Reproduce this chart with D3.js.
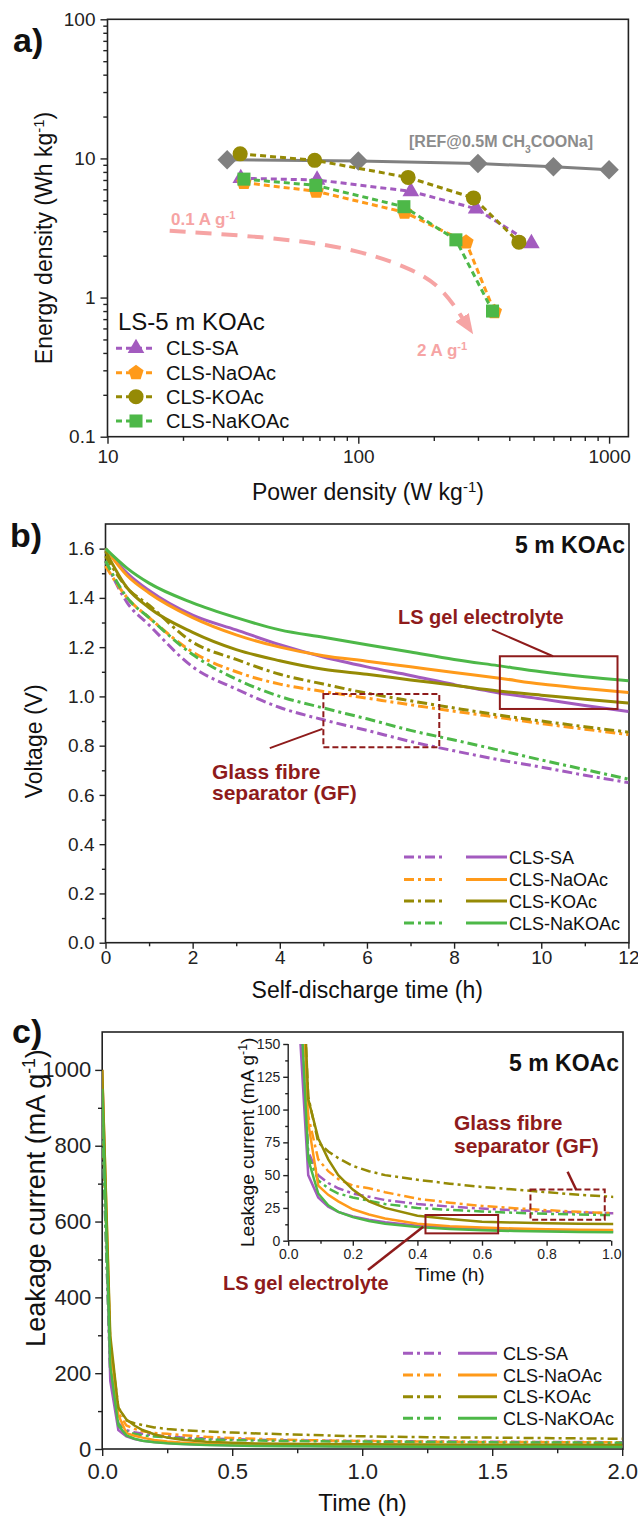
<!DOCTYPE html>
<html>
<head>
  <meta charset="utf-8">
  <title>Energy, self-discharge and leakage</title>
  <script src="https://d3js.org/d3.v7.min.js"></script>
  <style>
    body { margin: 0; background: #fff; }
    svg { font-family: 'Liberation Sans', Arial, sans-serif; }
    .frame { fill: none; stroke: #222; stroke-width: 1.6; }
    .axis path { display: none; }
    .axis line { stroke: #222; stroke-width: 1.4; }
    .axis text { fill: #222; font-family: 'Liberation Sans', Arial, sans-serif; }
    .title { fill: #111; }
    .panel-label { font-weight: 700; font-size: 34px; fill: #111; }
    .note { font-weight: 700; fill: #8e1b1b; }
    .curve { fill: none; }
  </style>
</head>
<body>
<script>
  // ---------- data: panel a (Ragone) ----------
  var refPower     = [30, 100, 300, 600, 1000];
  var refEnergy    = [9.8, 9.6, 9.2, 8.7, 8.3];
  var saPower      = [34, 68.5, 162, 295, 490];
  var saEnergy     = [7.2, 7.0, 5.8, 4.35, 2.45];
  var naoacPower   = [35, 68, 153, 269, 349];
  var naoacEnergy  = [6.7, 5.8, 4.1, 2.5, 0.79];
  var koacPower    = [33.8, 67, 158, 288, 437];
  var koacEnergy   = [10.8, 9.7, 7.3, 5.2, 2.5];
  var nakoacPower  = [35, 67.7, 152, 245, 343];
  var nakoacEnergy = [7.1, 6.4, 4.5, 2.6, 0.8];
  // rate arrow (0.1 -> 2 A/g), power / energy
  var arrowPower   = [17.7, 41.8, 90, 159, 215, 262];
  var arrowEnergy  = [3.02, 2.74, 2.32, 1.66, 1.2, 0.70];

  // ---------- data: panel b (self-discharge) ----------
  var timeB      = [0, 0.5, 1, 2, 3, 4, 5, 6, 7, 8, 9, 10, 11, 12];
  var saLSb      = [1.60, 1.50, 1.43, 1.33, 1.27, 1.21, 1.16, 1.12, 1.085, 1.048, 1.015, 0.99, 0.963, 0.939];
  var naoacLSb   = [1.60, 1.49, 1.42, 1.32, 1.25, 1.20, 1.165, 1.143, 1.12, 1.097, 1.075, 1.05, 1.032, 1.016];
  var koacLSb    = [1.59, 1.44, 1.36, 1.26, 1.19, 1.145, 1.11, 1.09, 1.067, 1.045, 1.022, 1.005, 0.988, 0.973];
  var nakoacLSb  = [1.60, 1.52, 1.46, 1.38, 1.32, 1.27, 1.24, 1.21, 1.18, 1.15, 1.125, 1.10, 1.08, 1.064];
  var saGFb      = [1.55, 1.38, 1.29, 1.12, 1.03, 0.955, 0.905, 0.862, 0.817, 0.779, 0.744, 0.713, 0.68, 0.65];
  var naoacGFb   = [1.53, 1.40, 1.32, 1.18, 1.10, 1.05, 1.02, 0.993, 0.966, 0.94, 0.915, 0.89, 0.867, 0.845];
  var koacGFb    = [1.57, 1.44, 1.37, 1.22, 1.15, 1.09, 1.05, 1.013, 0.982, 0.953, 0.925, 0.90, 0.877, 0.855];
  var nakoacGFb  = [1.55, 1.40, 1.32, 1.17, 1.07, 1.0, 0.953, 0.909, 0.862, 0.823, 0.783, 0.742, 0.703, 0.664];

  // ---------- data: panel c (leakage current) ----------
  var timeC      = [0, 0.031, 0.062, 0.093, 0.124, 0.155, 0.2, 0.25, 0.3, 0.4, 0.5, 0.6, 0.7, 0.8, 0.9, 1.0, 1.25, 1.5, 1.75, 2.0];
  var saLSc      = [1000, 180, 50, 33, 26, 22, 18.5, 16, 14, 11.5, 10, 9, 8.3, 7.8, 7.4, 7.1, 6.7, 6.4, 6.2, 6];
  var naoacLSc   = [1000, 280, 90, 42, 35, 30, 24, 20, 17, 13, 11, 10, 9.3, 8.8, 8.4, 8.2, 7.8, 7.5, 7.2, 7];
  var koacLSc    = [1000, 300, 108, 78, 62, 50, 39, 30, 25, 19, 16.5, 14.5, 13.8, 13.3, 13, 12.8, 12, 11.5, 11, 10.5];
  var nakoacLSc  = [950, 220, 62, 36, 27, 22, 18, 15, 13, 10.5, 9, 8, 7.4, 7, 6.7, 6.5, 6.2, 6, 5.8, 5.6];
  var saGFc      = [850, 200, 68, 50, 44, 40, 36, 33.5, 31, 28, 26, 24.5, 23.3, 22.3, 21.5, 21, 20, 19, 18.5, 18];
  var naoacGFc   = [900, 250, 95, 62, 53, 47, 42, 40, 37, 32, 29, 26.5, 24.8, 23.3, 22, 21, 19.5, 18.5, 18, 17.5];
  var koacGFc    = [900, 280, 110, 75, 68, 63, 57, 53, 50, 46.5, 43.5, 41, 39, 37, 35, 33.5, 31, 30, 28.5, 27];
  var nakoacGFc  = [850, 200, 65, 46, 40, 36, 33, 30.5, 28, 25, 23.5, 22.3, 21.3, 20.5, 20, 19.5, 18.5, 17.5, 17, 16.5];

  var names = ["CLS-SA", "CLS-NaOAc", "CLS-KOAc", "CLS-NaKOAc"];
  var purple = "#a35bbf", orange = "#ff9a1a", olive = "#958a05", green = "#4db848";
  var grey = "#808080", pink = "#f6a4a4", darkRed = "#8e1b1b";
  var dashDot = "10,4,3,4";

  var svg = d3.select("body").append("svg")
    .attr("width", 638)
    .attr("height", 1518);

  // custom symbols
  var symbolPentagon = {
    draw: function(ctx, size) {
      var r = Math.sqrt(size / 2.378);
      for (var i = 0; i < 5; i++) {
        var a = -Math.PI / 2 + i * 2 * Math.PI / 5;
        if (i == 0) ctx.moveTo(r * Math.cos(a), r * Math.sin(a));
        else ctx.lineTo(r * Math.cos(a), r * Math.sin(a));
      }
      ctx.closePath();
    }
  };
  var symbolRhomb = {
    draw: function(ctx, size) {
      var r = Math.sqrt(size / 2);
      ctx.moveTo(0, -r); ctx.lineTo(r, 0); ctx.lineTo(0, r); ctx.lineTo(-r, 0); ctx.closePath();
    }
  };

  function axis(g, fn, scale, majors, minors, o) {
    var a = fn(scale).tickValues(majors).tickSize(o.size).tickPadding(o.pad);
    if (o.fmt) a.tickFormat(o.fmt);
    g.append("g").attr("class", "axis").attr("transform", o.at)
      .call(a)
      .selectAll("text").style("font-size", o.font + "px");
    g.append("g").attr("class", "axis").attr("transform", o.at)
      .call(fn(scale).tickValues(minors).tickSize(o.size * 0.6).tickFormat(""));
  }

  // text with superscript / subscript pieces: [[str, "sup"|"sub"|null], ...]
  function richText(sel, parts) {
    parts.forEach(function(p) {
      var t = sel.append("tspan").text(p[0]);
      if (p[1] == "sup") t.attr("baseline-shift", "super").style("font-size", "65%");
      if (p[1] == "sub") t.attr("baseline-shift", "sub").style("font-size", "65%");
    });
    return sel;
  }

  // ======================= panel a =======================
  var A = {l: 107.5, r: 628.4, t: 19.3, b: 436.7};
  var xa = d3.scaleLog().domain([10, 1194]).range([A.l, A.r]);
  var ya = d3.scaleLog().domain([0.1, 100]).range([A.b, A.t]);
  var ga = svg.append("g");

  var minorLogX = [20,30,40,50,60,70,80,90,200,300,400,500,600,700,800,900];
  var minorLogY = [0.2,0.3,0.4,0.5,0.6,0.7,0.8,0.9,2,3,4,5,6,7,8,9,20,30,40,50,60,70,80,90];
  axis(ga, d3.axisBottom, xa, [10, 100, 1000], minorLogX,
    {at: "translate(0," + A.b + ")", size: 7, pad: 6, font: 19, fmt: d3.format("d")});
  axis(ga, d3.axisLeft, ya, [0.1, 1, 10, 100], minorLogY,
    {at: "translate(" + A.l + ",0)", size: 7, pad: 5, font: 19, fmt: function(d) { return d < 1 ? "0.1" : d3.format("d")(d); }});
  ga.append("rect").attr("class", "frame")
    .attr("x", A.l).attr("y", A.t).attr("width", A.r - A.l).attr("height", A.b - A.t);

  var lineA = d3.line().x(d => xa(d[0])).y(d => ya(d[1]));
  var seriesA = [
    {name: "ref", color: grey, sym: symbolRhomb, size: 190, p: refPower, e: refEnergy, dash: null},
    {name: names[0], color: purple, sym: d3.symbolTriangle, size: 120, p: saPower, e: saEnergy, dash: "6,4"},
    {name: names[1], color: orange, sym: symbolPentagon, size: 150, p: naoacPower, e: naoacEnergy, dash: "6,4"},
    {name: names[2], color: olive, sym: d3.symbolCircle, size: 180, p: koacPower, e: koacEnergy, dash: "6,4"},
    {name: names[3], color: green, sym: d3.symbolSquare, size: 170, p: nakoacPower, e: nakoacEnergy, dash: "6,4"}
  ];
  seriesA.forEach(function(s) {
    var pts = s.p.map((v, i) => [v, s.e[i]]);
    ga.append("path").attr("class", "curve")
      .attr("d", lineA(pts))
      .style("stroke", s.color).style("stroke-width", 3)
      .style("stroke-dasharray", s.dash);
    ga.append("g").selectAll("path")
      .data(pts)
      .enter().append("path")
        .attr("transform", d => "translate(" + xa(d[0]) + "," + ya(d[1]) + ")")
        .attr("d", d3.symbol().type(s.sym).size(s.size))
        .style("fill", s.color);
  });

  // rate arrow
  var defs = svg.append("defs");
  defs.append("marker").attr("id", "pinkHead")
    .attr("viewBox", "0 0 20 20").attr("refX", 2).attr("refY", 10)
    .attr("markerWidth", 20).attr("markerHeight", 20)
    .attr("markerUnits", "userSpaceOnUse").attr("orient", "auto")
    .append("path").attr("d", "M0,2 L20,10 L0,18 Z").style("fill", pink);
  ga.append("path").attr("class", "curve")
    .attr("d", d3.line().x(d => xa(d[0])).y(d => ya(d[1])).curve(d3.curveBasis)(arrowPower.map((v, i) => [v, arrowEnergy[i]])))
    .style("stroke", pink).style("stroke-width", 4).style("stroke-dasharray", "16,10")
    .attr("marker-end", "url(#pinkHead)");
  richText(ga.append("text").attr("x", 171).attr("y", 225)
    .style("font-size", "17px").style("font-weight", 700).style("fill", pink),
    [["0.1 A g"], ["-1", "sup"]]);
  richText(ga.append("text").attr("x", 417).attr("y", 356)
    .style("font-size", "17px").style("font-weight", 700).style("fill", pink),
    [["2 A g"], ["-1", "sup"]]);
  richText(ga.append("text").attr("x", 409).attr("y", 147)
    .style("font-size", "16px").style("font-weight", 700).style("fill", "#8c8c8c"),
    [["[REF@0.5M CH"], ["3", "sub"], ["COONa]"]]);

  // legend a
  ga.append("text").attr("x", 118).attr("y", 330).style("font-size", "24px").style("fill", "#111")
    .text("LS-5 m KOAc");
  var legA = ga.append("g").selectAll("g")
    .data(seriesA.slice(1))
    .enter().append("g")
      .attr("transform", (d, i) => "translate(0," + [348.3, 372.7, 396.7, 421][i] + ")");
  legA.append("line").attr("x1", 116).attr("x2", 154)
    .style("stroke", d => d.color).style("stroke-width", 3).style("stroke-dasharray", "6,4");
  legA.append("path").attr("transform", "translate(136,0)")
    .attr("d", d => d3.symbol().type(d.sym).size(d.size)())
    .style("fill", d => d.color);
  legA.append("text").attr("x", 166).attr("y", 7).style("font-size", "20px").style("fill", "#111")
    .text(d => d.name);

  richText(ga.append("text").attr("class", "title").attr("text-anchor", "middle")
    .attr("transform", "translate(52," + ((A.t + A.b) / 2 + 10) + ") rotate(-90)")
    .style("font-size", "23px"),
    [["Energy density (Wh kg"], ["-1", "sup"], [")"]]);
  richText(ga.append("text").attr("class", "title").attr("text-anchor", "middle")
    .attr("x", (A.l + A.r) / 2).attr("y", 500).style("font-size", "23px"),
    [["Power density (W kg"], ["-1", "sup"], [")"]]);
  ga.append("text").attr("class", "panel-label").attr("x", 13).attr("y", 52).text("a)");

  // ======================= panel b =======================
  var B = {l: 105.5, r: 629, t: 524, b: 942.7};
  var xb = d3.scaleLinear().domain([0, 12]).range([B.l, 628.4]);
  var yb = d3.scaleLinear().domain([0, 1.7]).range([B.b, B.t]);
  var gb = svg.append("g");
  axis(gb, d3.axisBottom, xb, d3.range(0, 13, 2), d3.range(1, 12, 2),
    {at: "translate(0," + B.b + ")", size: 6, pad: 2, font: 19, fmt: d3.format("d")});
  axis(gb, d3.axisLeft, yb, d3.range(0, 1.61, 0.2), d3.range(0.1, 1.7, 0.2),
    {at: "translate(" + B.l + ",0)", size: 6, pad: 5, font: 19, fmt: d3.format(".1f")});
  gb.append("rect").attr("class", "frame")
    .attr("x", B.l).attr("y", B.t).attr("width", B.r - B.l).attr("height", B.b - B.t);

  var seriesB = [
    {name: names[0], color: purple, gf: saGFb, ls: saLSb},
    {name: names[1], color: orange, gf: naoacGFb, ls: naoacLSb},
    {name: names[2], color: olive, gf: koacGFb, ls: koacLSb},
    {name: names[3], color: green, gf: nakoacGFb, ls: nakoacLSb}
  ];
  var lineB = d3.line().x((d, i) => xb(timeB[i])).y(d => yb(d)).curve(d3.curveMonotoneX);
  seriesB.forEach(function(s) {
    gb.append("path").attr("class", "curve").attr("d", lineB(s.gf))
      .style("stroke", s.color).style("stroke-width", 3).style("stroke-dasharray", dashDot);
  });
  seriesB.forEach(function(s) {
    gb.append("path").attr("class", "curve").attr("d", lineB(s.ls))
      .style("stroke", s.color).style("stroke-width", 3);
  });

  // annotation boxes b
  gb.append("rect").attr("x", xb(9.05)).attr("y", yb(1.163))
    .attr("width", xb(11.75) - xb(9.05)).attr("height", yb(0.949) - yb(1.163))
    .style("fill", "none").style("stroke", darkRed).style("stroke-width", 2);
  gb.append("rect").attr("x", xb(5)).attr("y", yb(1.01))
    .attr("width", xb(7.66) - xb(5)).attr("height", yb(0.794) - yb(1.01))
    .style("fill", "none").style("stroke", darkRed).style("stroke-width", 2).style("stroke-dasharray", "6,3");
  gb.append("line").attr("x1", xb(8.87)).attr("y1", yb(1.271)).attr("x2", xb(10.27)).attr("y2", yb(1.163))
    .style("stroke", darkRed).style("stroke-width", 2);
  gb.append("line").attr("x1", xb(3.77)).attr("y1", yb(0.79)).attr("x2", xb(4.98)).attr("y2", yb(0.868))
    .style("stroke", darkRed).style("stroke-width", 2);
  gb.append("text").attr("class", "note").attr("x", 398).attr("y", 624).style("font-size", "20px").text("LS gel electrolyte");
  gb.append("text").attr("class", "note").attr("x", 212).attr("y", 779).style("font-size", "21px").text("Glass fibre");
  gb.append("text").attr("class", "note").attr("x", 212).attr("y", 800).style("font-size", "21px").text("separator (GF)");
  gb.append("text").attr("x", 625).attr("y", 553).attr("text-anchor", "end")
    .style("font-size", "23px").style("font-weight", 700).style("fill", "#111").text("5 m KOAc");

  function legend(g, rows, ys, x) {
    var lg = g.append("g").selectAll("g")
      .data(rows)
      .enter().append("g")
        .attr("transform", (d, i) => "translate(0," + ys[i] + ")");
    lg.append("line").attr("x1", x[0]).attr("x2", x[1])
      .style("stroke", d => d.color).style("stroke-width", 3).style("stroke-dasharray", dashDot);
    lg.append("line").attr("x1", x[2]).attr("x2", x[3])
      .style("stroke", d => d.color).style("stroke-width", 3);
    lg.append("text").attr("x", x[4]).attr("y", 6.5).style("font-size", "18px").style("fill", "#111")
      .text(d => d.name);
  }
  legend(gb, seriesB, [857, 879.5, 901, 923], [404, 444, 466, 507, 509]);

  gb.append("text").attr("class", "title").attr("text-anchor", "middle")
    .attr("transform", "translate(42," + ((B.t + B.b) / 2 + 8) + ") rotate(-90)")
    .style("font-size", "23px").text("Voltage (V)");
  gb.append("text").attr("class", "title").attr("text-anchor", "middle")
    .attr("x", (B.l + B.r) / 2).attr("y", 998).style("font-size", "23px").text("Self-discharge time (h)");
  gb.append("text").attr("class", "panel-label").attr("x", 10).attr("y", 547).text("b)");

  // ======================= panel c =======================
  var C = {l: 102.2, r: 623, t: 1032, b: 1449};
  var xc = d3.scaleLinear().domain([0, 2]).range([C.l, 622.2]);
  var yc = d3.scaleLinear().domain([0, 1100]).range([C.b, C.t]);
  var gc = svg.append("g");
  axis(gc, d3.axisBottom, xc, [0, 0.5, 1, 1.5, 2], [0.25, 0.75, 1.25, 1.75],
    {at: "translate(0," + C.b + ")", size: 7, pad: 7, font: 22, fmt: d3.format(".1f")});
  axis(gc, d3.axisLeft, yc, d3.range(0, 1001, 200), d3.range(100, 1100, 200),
    {at: "translate(" + C.l + ",0)", size: 7, pad: 4, font: 22, fmt: d3.format("d")});
  gc.append("rect").attr("class", "frame")
    .attr("x", C.l).attr("y", C.t).attr("width", C.r - C.l).attr("height", C.b - C.t);

  defs.append("clipPath").attr("id", "clipC").append("rect")
    .attr("x", C.l).attr("y", C.t).attr("width", C.r - C.l).attr("height", C.b - C.t);

  var seriesC = [
    {name: names[0], color: purple, gf: saGFc, ls: saLSc},
    {name: names[1], color: orange, gf: naoacGFc, ls: naoacLSc},
    {name: names[2], color: olive, gf: koacGFc, ls: koacLSc},
    {name: names[3], color: green, gf: nakoacGFc, ls: nakoacLSc}
  ];
  var lineC = d3.line().x((d, i) => xc(timeC[i])).y(d => yc(d));
  var mainC = gc.append("g").attr("clip-path", "url(#clipC)");
  seriesC.forEach(function(s) {
    mainC.append("path").attr("class", "curve").attr("d", lineC(s.gf))
      .style("stroke", s.color).style("stroke-width", 2.5).style("stroke-dasharray", dashDot);
  });
  seriesC.forEach(function(s) {
    mainC.append("path").attr("class", "curve").attr("d", lineC(s.ls))
      .style("stroke", s.color).style("stroke-width", 2.5);
  });

  // inset
  var I = {l: 288.2, r: 611.2, t: 1044, b: 1240.7};
  var xi = d3.scaleLinear().domain([0, 1]).range([I.l, I.r]);
  var yi = d3.scaleLinear().domain([0, 150]).range([I.b, I.t]);
  defs.append("clipPath").attr("id", "clipI").append("rect")
    .attr("x", I.l).attr("y", I.t).attr("width", I.r - I.l + 2).attr("height", I.b - I.t);
  axis(gc, d3.axisBottom, xi, d3.range(0, 1.01, 0.2), d3.range(0.1, 1, 0.2),
    {at: "translate(0," + I.b + ")", size: 5, pad: 3, font: 14, fmt: d3.format(".1f")});
  axis(gc, d3.axisLeft, yi, d3.range(0, 151, 25), d3.range(12.5, 150, 25),
    {at: "translate(" + I.l + ",0)", size: 5, pad: 3, font: 14, fmt: d3.format("d")});
  gc.append("line").attr("x1", I.l).attr("x2", I.l).attr("y1", I.t).attr("y2", I.b).style("stroke", "#222").style("stroke-width", 1.4);
  gc.append("line").attr("x1", I.l).attr("x2", I.r).attr("y1", I.b).attr("y2", I.b).style("stroke", "#222").style("stroke-width", 1.4);

  var lineI = d3.line().x((d, i) => xi(timeC[i])).y(d => yi(d));
  var inset = gc.append("g").attr("clip-path", "url(#clipI)");
  seriesC.forEach(function(s) {
    inset.append("path").attr("class", "curve").attr("d", lineI(s.gf))
      .style("stroke", s.color).style("stroke-width", 2.5).style("stroke-dasharray", dashDot);
  });
  seriesC.forEach(function(s) {
    inset.append("path").attr("class", "curve").attr("d", lineI(s.ls))
      .style("stroke", s.color).style("stroke-width", 2.5);
  });

  // annotation boxes c (inset units)
  gc.append("rect").attr("x", xi(0.425)).attr("y", yi(19.6))
    .attr("width", xi(0.65) - xi(0.425)).attr("height", yi(5.6) - yi(19.6))
    .style("fill", "none").style("stroke", darkRed).style("stroke-width", 2);
  gc.append("rect").attr("x", xi(0.75)).attr("y", yi(39))
    .attr("width", xi(0.98) - xi(0.75)).attr("height", yi(16) - yi(39))
    .style("fill", "none").style("stroke", darkRed).style("stroke-width", 2).style("stroke-dasharray", "6,3");
  gc.append("line").attr("x1", xi(0.418)).attr("y1", yi(10.7)).attr("x2", xi(0.247)).attr("y2", yi(-22.3))
    .style("stroke", darkRed).style("stroke-width", 2.5);
  gc.append("line").attr("x1", xi(0.865)).attr("y1", yi(52.6)).attr("x2", xi(0.892)).attr("y2", yi(38.7))
    .style("stroke", darkRed).style("stroke-width", 2.5);
  gc.append("text").attr("class", "note").attr("x", 223).attr("y", 1290).style("font-size", "20px").text("LS gel electrolyte");
  gc.append("text").attr("class", "note").attr("x", 454).attr("y", 1130).style("font-size", "21px").text("Glass fibre");
  gc.append("text").attr("class", "note").attr("x", 454).attr("y", 1153).style("font-size", "21px").text("separator (GF)");
  gc.append("text").attr("x", 619).attr("y", 1071).attr("text-anchor", "end")
    .style("font-size", "23px").style("font-weight", 700).style("fill", "#111").text("5 m KOAc");

  richText(gc.append("text").attr("class", "title").attr("text-anchor", "middle")
    .attr("transform", "translate(254," + ((I.t + I.b) / 2) + ") rotate(-90)")
    .style("font-size", "19px"),
    [["Leakage current (mA g"], ["-1", "sup"], [")"]]);
  gc.append("text").attr("class", "title").attr("text-anchor", "middle")
    .attr("x", (I.l + I.r) / 2).attr("y", 1281).style("font-size", "19px").text("Time (h)");

  legend(gc, seriesC, [1353.3, 1375, 1396.7, 1418.3], [403, 441, 458, 497, 503]);

  richText(gc.append("text").attr("class", "title").attr("text-anchor", "middle")
    .attr("transform", "translate(45,1198) rotate(-90)")
    .style("font-size", "27px"),
    [["Leakage current (mA g"], ["-1", "sup"], [")"]]);
  gc.append("text").attr("class", "title").attr("text-anchor", "middle")
    .attr("x", (C.l + C.r) / 2).attr("y", 1511).style("font-size", "24px").text("Time (h)");
  gc.append("text").attr("class", "panel-label").attr("x", 12).attr("y", 1043).text("c)");
</script>
</body>
</html>
